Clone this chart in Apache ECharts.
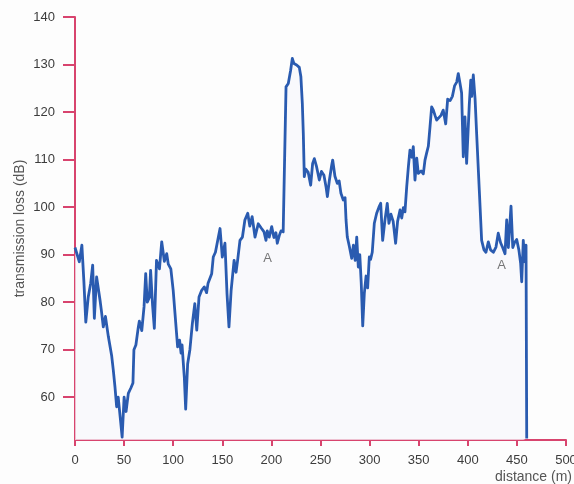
<!DOCTYPE html>
<html>
<head>
<meta charset="utf-8">
<script src="https://cdn.jsdelivr.net/npm/echarts@6/dist/echarts.min.js"></script>
<style>
  html, body { margin: 0; padding: 0; background: #fdfdfd; }
  #chart { width: 574px; height: 484px; }
</style>
</head>
<body>
<div id="chart"></div>
<script>
// Range along the path (m)
const distance = [
  0, 4.4, 7, 9, 11, 13.5, 16, 18, 19.7, 22, 25.5, 27, 28.8, 31, 34, 37.3, 39, 40.7, 42.4, 44,
  46.5, 48, 50, 52, 54.3, 57, 59, 60, 62, 64.5, 65.5, 68, 70.3, 72, 73.6, 75.7, 77, 79, 80.8, 83,
  86, 88.3, 91, 93.4, 95, 97.6, 100, 101.8, 104.5, 106.5, 108, 109, 111.3, 112.7, 114.7, 117, 119.5, 122, 124, 126.3,
  129, 131.7, 134, 135.5, 139.2, 140.8, 143, 146, 147.7, 150, 152.7, 154.8, 156.8, 159, 162, 164, 165.6, 168, 170.5, 173,
  175.9, 178, 180.4, 183.3, 186.6, 190, 192.5, 194.5, 195.8, 197.8, 200.3, 202.6, 204.6, 206, 208, 209.8, 212, 214.9, 217.2, 219.6,
  221.3, 223, 225.7, 228.4, 230, 231.5, 232.5, 233.5, 235, 237.5, 240, 242, 243.7, 246, 248.8, 251, 253.5, 255.6, 257, 259,
  261.4, 262.4, 264.7, 267.1, 269, 270.8, 273.2, 275, 276, 277.3, 279.4, 281.8, 283.5, 285.3, 286.9, 288.5, 290, 291.5, 293, 294.6,
  296.4, 298, 299.7, 301, 302.7, 304.8, 307.2, 309.5, 311.3, 313.3, 315.6, 318, 319.7, 321.7, 324, 326.5, 328.5, 331, 332.7, 334.4,
  336, 337.8, 339.5, 341.1, 343, 344.5, 346.2, 348, 349.6, 352.4, 354.7, 356.4, 358, 359.8, 361.5, 363.2, 364.9, 366.6, 368.3, 370,
  372.7, 375, 377.5, 379.5, 382, 384.3, 386.5, 388.7, 390.3, 392, 393.7, 395.4, 397.1, 398.8, 401.5, 403, 404, 405.6, 407.4, 409,
  411.7, 414.1, 416.5, 418.5, 420.9, 423.2, 426, 428.7, 431, 433.4, 435.5, 437.9, 439.6, 441.3, 444, 445.8, 447.5, 449.8, 452, 453.8,
  454.9, 456.5, 458, 459.3, 460
];

// Transmission loss (dB)
const loss = [
  91.5, 88.5, 92, 84.6, 75.8, 81.1, 84, 87.8, 76.6, 85.3, 80.4, 78, 74.8, 77, 72.7, 68.8, 65.7, 62.2, 58, 60,
  54.8, 51.6, 60, 57, 60.8, 62, 63, 70, 71, 74.8, 76, 74, 79, 86, 80, 81, 86.7, 79.3, 74.5, 88.8,
  87, 92.7, 88.6, 90.2, 88, 87, 82.5, 77.7, 70.6, 72, 69.3, 71, 64.3, 57.5, 67, 70, 75.5, 79.7, 74.1, 81.1,
  82.5, 83.2, 82, 84, 86, 89.5, 90.5, 93.7, 95.5, 89.5, 92.4, 81.8, 74.8, 82.5, 88.8, 86.3, 88.8, 93, 93.7, 97.3,
  98.7, 96, 98, 93.7, 96.5, 95.5, 94.8, 93, 95, 93.7, 95.9, 93.6, 94.6, 92.4, 94, 95, 94.8, 125.3, 126, 128.8,
  131.3, 130.2, 129.9, 129.4, 127.5, 121.8, 115.5, 106.4, 108, 107.3, 104.6, 109.2, 110.2, 108.5, 105.7, 107.5, 106.7, 104.3, 102.2, 105.6,
  108.8, 109.9, 106.5, 105, 105.5, 102.9, 101.5, 102, 97.3, 93.7, 91.7, 89.2, 92, 88.8, 93.7, 87.4, 90, 84, 75, 81.8,
  85.5, 83, 89.5, 89, 90.5, 96.6, 98.7, 100, 100.8, 93, 97.2, 100.8, 96.6, 98.5, 97, 92.4, 97, 99.4, 97.7, 99.9,
  99, 104.3, 108.5, 112, 110.5, 112.7, 105.7, 110.3, 107.1, 107.6, 107, 109.9, 111.3, 112.8, 116.9, 121.1, 120.4, 119.3, 118.3, 118.7,
  119.3, 120.4, 117.5, 122.7, 122.4, 123.3, 125.5, 126.3, 128.1, 126.1, 124, 110.6, 119, 109.2, 121.5, 126.7, 123.3, 127.8, 122.8, 115.5,
  103.6, 93, 91, 90.5, 92.7, 91, 90.5, 91.6, 94.5, 92.5, 91.5, 90.2, 97.3, 91.5, 100.2, 91.5, 92.5, 93.2, 91, 88.2,
  84.3, 93, 88.5, 92, 51.3
];

// Tick labels on the loss axis
const lossTicks = [60, 70, 80, 90, 100, 110, 120, 130, 140];

// Point annotations
const noteText = ['A', 'A'];
const noteDistance = [196, 434.5];
const noteLoss = [89.2, 87.8];

const axisRed = '#d8446e';
const labelGrey = '#3c3c3c';

const chart = echarts.init(document.getElementById('chart'), null, { renderer: 'canvas' });

chart.setOption({
  backgroundColor: '#fdfdfd',
  animation: false,
  grid: { left: 75, right: 8, top: 17, bottom: 44, containLabel: false, outerBoundsMode: 'none' },
  xAxis: {
    type: 'value',
    min: 0,
    max: 500,
    interval: 50,
    axisLine: { show: true, lineStyle: { color: axisRed, width: 2 } },
    axisTick: { show: true, length: 6, lineStyle: { color: axisRed, width: 2 } },
    axisLabel: {
      show: true, margin: 14, color: labelGrey,
      fontFamily: 'Liberation Sans, Arial, sans-serif', fontSize: 13
    },
    splitLine: { show: false }
  },
  yAxis: {
    type: 'value',
    min: 51,
    max: 140,
    name: 'transmission loss (dB)',
    nameLocation: 'middle',
    nameGap: 48,
    nameMoveOverlap: false,
    nameRotate: 90,
    nameTextStyle: { color: '#555', fontFamily: 'Liberation Sans, Arial, sans-serif', fontSize: 14 },
    axisLine: { show: true, lineStyle: { color: axisRed, width: 2 } },
    axisTick: { show: true, length: 12, customValues: lossTicks, lineStyle: { color: axisRed, width: 2 } },
    axisLabel: {
      show: true, margin: 20, color: labelGrey, customValues: lossTicks,
      fontFamily: 'Liberation Sans, Arial, sans-serif', fontSize: 13
    },
    splitLine: { show: false }
  },
  graphic: [{
    type: 'text',
    right: 2,
    bottom: 0,
    style: {
      text: 'distance (m)',
      fill: '#555',
      font: '14px "Liberation Sans", Arial, sans-serif'
    }
  }],
  series: [
    {
      type: 'line',
      data: distance.map((d, i) => [d, loss[i]]),
      showSymbol: false,
      lineStyle: { color: '#2a5bb0', width: 2.8, join: 'round' },
      areaStyle: { color: '#f7f7fb' },
      z: 3
    },
    {
      type: 'scatter',
      symbolSize: 0,
      data: noteDistance.map((d, i) => ({ value: [d, noteLoss[i]], name: noteText[i] })),
      label: {
        show: true,
        position: 'inside',
        formatter: p => p.name,
        color: '#555',
        fontFamily: 'Liberation Sans, Arial, sans-serif',
        fontSize: 13
      },
      z: 4
    }
  ]
});
</script>
</body>
</html>
